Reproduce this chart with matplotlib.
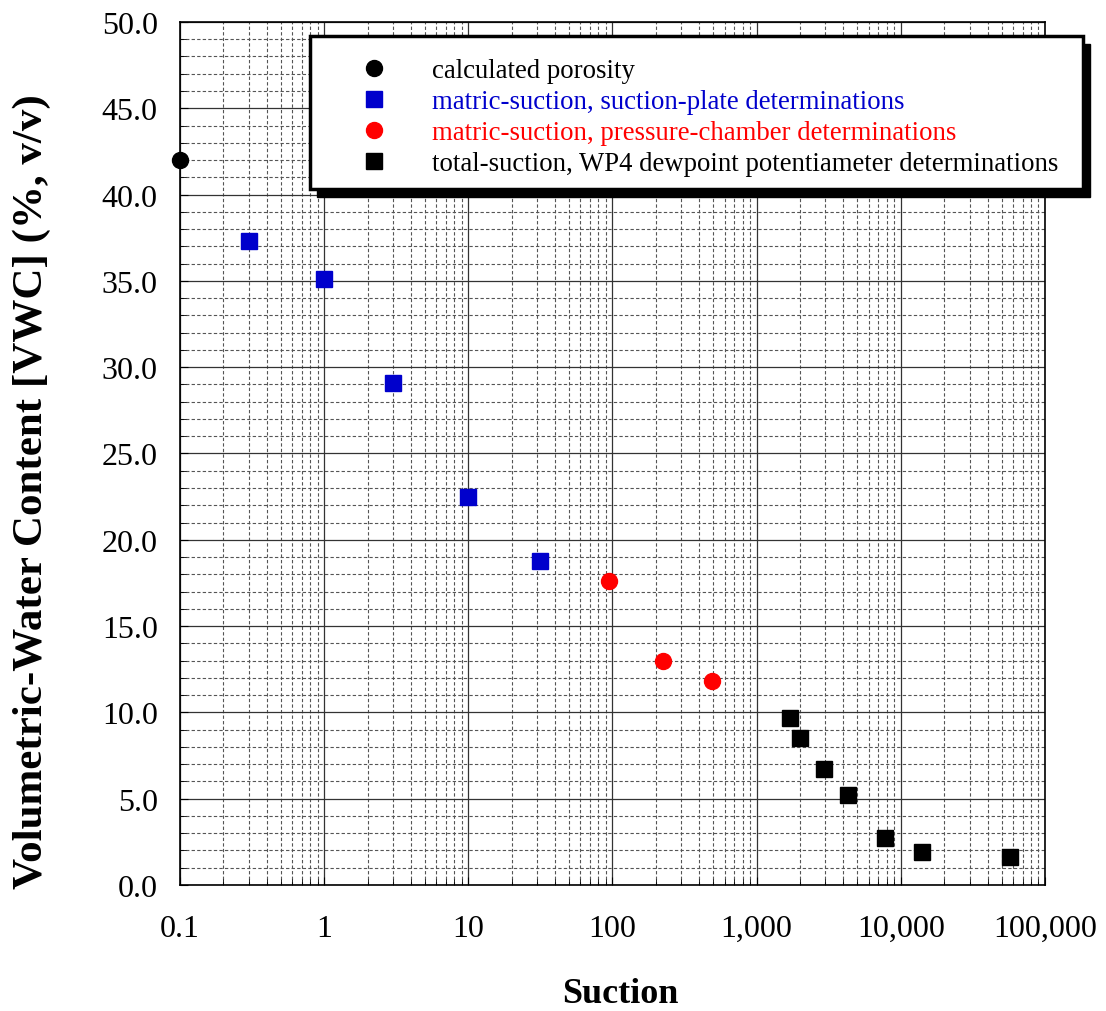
import numpy as np
import matplotlib.pyplot as plt
from matplotlib.patches import Rectangle
from matplotlib.ticker import FixedLocator, LogLocator, MultipleLocator, NullFormatter

# porosity point
por_x = [0.1]
por_y = [42.0]

# matric suction, suction plate
plate_x = [0.3, 1.0, 3.0, 10.0, 31.6]
plate_y = [37.3, 35.1, 29.1, 22.5, 18.8]

# matric suction, pressure chamber
chamber_x = [94.0, 226.0, 487.0]
chamber_y = [17.6, 13.0, 11.8]

# total suction, WP4
wp4_x = [1700, 1990, 2920, 4290, 7740, 14000, 57100]
wp4_y = [9.7, 8.5, 6.7, 5.2, 2.7, 1.9, 1.6]

xtick_vals = [0.1, 1, 10, 100, 1000, 10000, 100000]
xtick_labels = ['0.1', '1', '10', '100', '1,000', '10,000', '100,000']

plt.rcParams['font.family'] = ['Liberation Serif', 'DejaVu Serif']

W, H = 1106, 1012
fig = plt.figure(figsize=(W / 100, H / 100), dpi=100)
ax = fig.add_axes([0.1627, 0.1245, 0.7821, 0.8528])

blue = '#0000CC'
red = '#FF0000'
ax.plot(por_x, por_y, 'o', color='black', ms=11.5, clip_on=False, zorder=5,
        label='calculated porosity')
ax.plot(plate_x, plate_y, 's', color=blue, ms=12, clip_on=False, zorder=5,
        label='matric-suction, suction-plate determinations')
ax.plot(chamber_x, chamber_y, 'o', color=red, ms=11.5, clip_on=False, zorder=5,
        label='matric-suction, pressure-chamber determinations')
ax.plot(wp4_x, wp4_y, 's', color='black', ms=12, clip_on=False, zorder=5,
        label='total-suction, WP4 dewpoint potentiameter determinations')

ax.set_xscale('log')
ax.set_xlim(0.1, 100000)
ax.set_ylim(0, 50)

ax.xaxis.set_major_locator(FixedLocator(xtick_vals))
ax.set_xticklabels(xtick_labels)
ax.xaxis.set_minor_locator(LogLocator(base=10, subs=np.arange(2, 10), numticks=20))
ax.xaxis.set_minor_formatter(NullFormatter())
ax.yaxis.set_minor_locator(MultipleLocator(1))
ax.set_yticks(np.arange(0, 51, 5))
ax.set_yticklabels([f'{v:.1f}' for v in np.arange(0, 51, 5)])

ax.grid(True, which='major', color='#333333', lw=0.9, ls='-')
ax.grid(True, which='minor', color='#555555', lw=0.8, ls=(0, (3, 2)))
ax.set_axisbelow(True)

ax.tick_params(which='both', direction='in', labelsize=23, top=False, right=False)
ax.tick_params(which='major', length=6)
ax.tick_params(which='minor', length=4)
ax.tick_params(axis='x', pad=21)
ax.tick_params(axis='y', pad=16)
for s in ax.spines.values():
    s.set_linewidth(1.2)

ax.set_xlabel('Suction', fontsize=26, fontweight='bold', labelpad=24)
ax.xaxis.label.set_x(0.5087)
ax.set_ylabel('Volumetric-Water Content [VWC] (%, v/v)', fontsize=31,
              fontweight='bold')
ax.yaxis.set_label_coords(-0.149, 0.4566)

# legend box with a hard black drop shadow
bx0, by0, bx1, by1 = 310, 37, 1083, 190
fig.add_artist(Rectangle(((bx0 + 7) / W, 1 - (by1 + 8) / H), (bx1 - bx0) / W,
                         (by1 - by0) / H, transform=fig.transFigure,
                         facecolor='black', edgecolor='black', zorder=4))
fig.add_artist(Rectangle((bx0 / W, 1 - by1 / H), (bx1 - bx0) / W,
                         (by1 - by0) / H, transform=fig.transFigure,
                         facecolor='white', edgecolor='black', lw=2.5, zorder=4.5))

leg = fig.legend(loc='upper left', bbox_to_anchor=(315 / W, 1 - 42 / H), fontsize=19.3,
                 frameon=False, borderpad=0.65, labelspacing=0.22, handletextpad=0.6,
                 borderaxespad=0, handlelength=3.1)
leg.set_zorder(5)
for txt, c in zip(leg.get_texts(), ['black', blue, red, 'black']):
    txt.set_color(c)

fig.savefig('out.png', dpi=100)
